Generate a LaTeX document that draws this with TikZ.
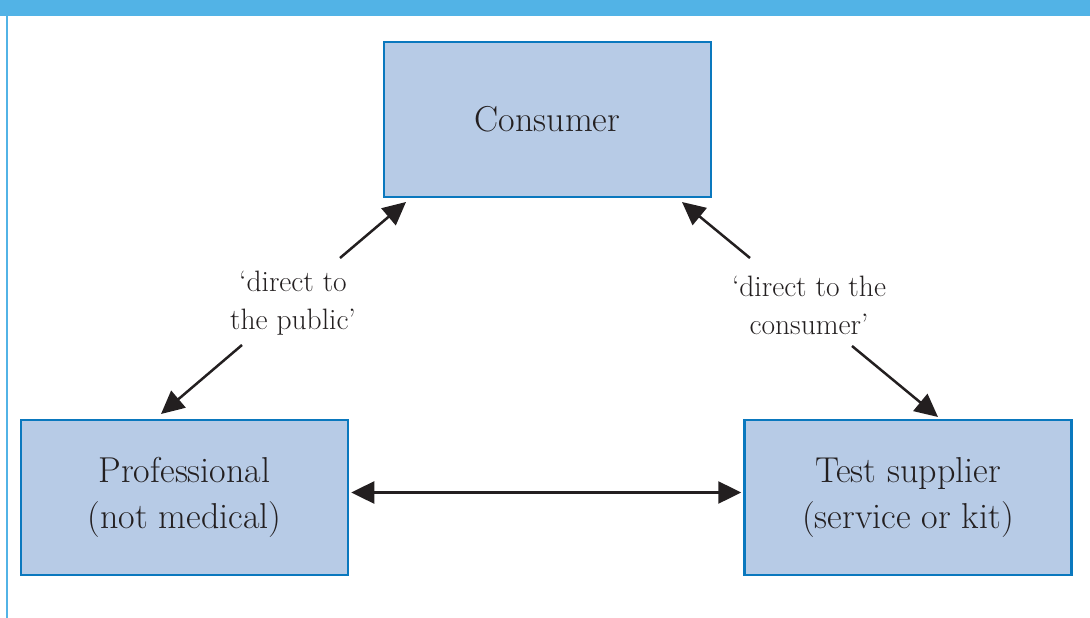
\documentclass[tikz,border=0pt]{standalone}
\usetikzlibrary{arrows.meta}
\definecolor{band}{HTML}{52B3E6}
\definecolor{boxfill}{HTML}{B7CBE6}
\definecolor{boxline}{HTML}{0A78BE}
\definecolor{ink}{HTML}{231F20}
\tikzset{
  entity/.style={draw=boxline, fill=boxfill, line width=2.5pt, minimum width=327pt, minimum height=155pt, align=center, text=ink, font=\fontsize{36}{46}\selectfont, inner sep=0pt},
  lab/.style={align=center, text=ink, font=\fontsize{29.5}{38}\selectfont, inner sep=0pt},
  link/.style={draw=ink, line width=2.5pt, -{Triangle[length=23pt,width=22pt]}},
  dlink/.style={draw=ink, line width=2.5pt, {Triangle[length=23pt,width=22pt]}-{Triangle[length=23pt,width=22pt]}}
}
\begin{document}
\begin{tikzpicture}[x=1pt,y=-1pt]
\useasboundingbox (0,0) rectangle (1090,618);
\fill[band] (0,0) rectangle (1090,16);
\draw[band, line width=2pt] (6.5,16) -- (6.5,618);

\node[entity] (consumer) at (547.5,119.5) {Consumer};
\node[entity] (prof) at (184.5,497.5) {Professional\\(not medical)};
\node[entity] (supp) at (908,497.5) {Test supplier\\(service or kit)};

\node[lab] (lpub) at (293,303) {‘direct to\\the public’};
\node[lab] (lcon) at (809,305) {‘direct to the\\consumer’};

\coordinate (a1s) at (340,258);
\coordinate (a1e) at (406,202);
\coordinate (a2s) at (242,345);
\coordinate (a2e) at (161,414);
\coordinate (b1s) at (750,258);
\coordinate (b1e) at (682,202);
\coordinate (b2s) at (852,346);
\coordinate (b2e) at (938,417);

\draw[link] (a1s) -- (a1e);
\draw[link] (a2s) -- (a2e);
\draw[link] (b1s) -- (b1e);
\draw[link] (b2s) -- (b2e);
\draw[dlink] ([xshift=2pt,yshift=5pt]prof.east) -- ([xshift=-2pt,yshift=5pt]supp.west);
\end{tikzpicture}
\end{document}
